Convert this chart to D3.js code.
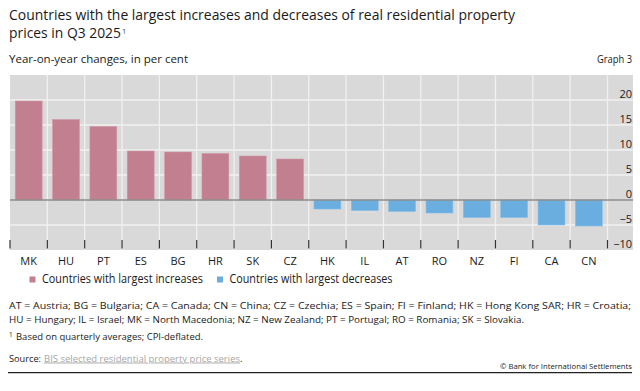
<!DOCTYPE html>
<html><head><meta charset="utf-8">
<script src="https://cdn.jsdelivr.net/npm/d3@7"></script>
<style>
html,body{margin:0;padding:0;background:#fff;}
svg{display:block;}
text{font-family:"Open Sans","Noto Sans",sans-serif;fill:#1a1a1a;}
</style></head>
<body>
<svg id="chart" width="640" height="391"></svg>
<script>
const categories = ["MK","HU","PT","ES","BG","HR","SK","CZ","HK","IL","AT","RO","NZ","FI","CA","CN"];
const increaseCountries = ["MK","HU","PT","ES","BG","HR","SK","CZ"];
const increaseValues = [19.8, 16.1, 14.7, 9.8, 9.6, 9.3, 8.8, 8.2];
const decreaseCountries = ["HK","IL","AT","RO","NZ","FI","CA","CN"];
const decreaseValues = [-1.8, -2.1, -2.3, -2.6, -3.5, -3.5, -5.0, -5.2];
const yTickValues = [-10, -5, 0, 5, 10, 15, 20];
const seriesNames = ["Countries with largest increases", "Countries with largest decreases"];
const seriesColors = ["#c17f8f", "#6aaee0"];

const svg = d3.select("#chart");
const plot = {left: 10, right: 633, top: 75, bottom: 250, barsRight: 607.5};

const x = d3.scaleBand().domain(categories).range([plot.left, plot.barsRight]).paddingInner(0.28).paddingOuter(0.14);
const y = d3.scaleLinear().domain([-10, 25]).range([plot.bottom, plot.top]);
const step = x.step();
const boundary = c => x(c) - step * 0.14;

function txt(xp, yp, s, size, width, anchor, color) {
  const t = svg.append("text").attr("x", xp).attr("y", yp).attr("font-size", size).text(s);
  if (anchor) t.attr("text-anchor", anchor);
  if (color) t.style("fill", color);
  if (width) t.attr("textLength", width).attr("lengthAdjust", "spacingAndGlyphs");
  return t;
}

// Titles
txt(9, 20, "Countries with the largest increases and decreases of real residential property", 15, 506);
const t2 = svg.append("text").attr("font-size", 15);
const t2main = t2.append("tspan").text("prices in Q3 2025");
t2.append("tspan").attr("font-size", 7).attr("dx", 1.5).attr("dy", -4.5).text("1");
const mainLen = t2main.node().getComputedTextLength();
const sx = 112 / mainLen;
t2.attr("transform", `translate(9,38) scale(${sx},1)`);
txt(9, 63, "Year-on-year changes, in per cent", 10.5, 179);
txt(632, 63, "Graph 3", 10.5, 35, "end");

// Background
svg.append("rect").attr("x", plot.left).attr("y", plot.top)
  .attr("width", plot.right - plot.left).attr("height", plot.bottom - plot.top).attr("fill", "#d9d9d9");

// Horizontal gridlines
svg.append("g").selectAll("line").data(yTickValues.filter(v => v !== 0 && v !== -10)).join("line")
  .attr("x1", plot.left).attr("x2", plot.right)
  .attr("y1", d => y(d)).attr("y2", d => y(d))
  .attr("stroke", "#f0f0f0").attr("stroke-width", 1.3);

// Vertical gridlines at band boundaries
const vBounds = categories.slice(1).map(boundary).concat([plot.barsRight]);
svg.append("g").selectAll("line").data(vBounds).join("line")
  .attr("x1", d => d).attr("x2", d => d)
  .attr("y1", plot.top).attr("y2", plot.bottom)
  .attr("stroke", "#f0f0f0").attr("stroke-width", 1.3);

// Bars
const bars = svg.append("g");
bars.selectAll("rect.inc").data(increaseCountries.map((c, i) => ({c, v: increaseValues[i]}))).join("rect")
  .attr("class", "inc")
  .attr("x", d => x(d.c)).attr("width", x.bandwidth())
  .attr("y", d => y(d.v)).attr("height", d => y(0) - y(d.v))
  .attr("fill", seriesColors[0]).attr("stroke", "#cf98a5").attr("stroke-width", 0.6);
bars.selectAll("rect.dec").data(decreaseCountries.map((c, i) => ({c, v: decreaseValues[i]}))).join("rect")
  .attr("class", "dec")
  .attr("x", d => x(d.c)).attr("width", x.bandwidth())
  .attr("y", y(0)).attr("height", d => y(d.v) - y(0))
  .attr("fill", seriesColors[1]).attr("stroke", "#86bde6").attr("stroke-width", 0.6);

// Zero line
svg.append("line").attr("x1", plot.left).attr("x2", plot.right)
  .attr("y1", y(0)).attr("y2", y(0)).attr("stroke", "#8c8c8c").attr("stroke-width", 1.4);

// Bottom tick marks at band boundaries
const tickBounds = categories.map(boundary).concat([plot.barsRight]);
svg.append("g").selectAll("line").data(tickBounds).join("line")
  .attr("x1", d => d).attr("x2", d => d)
  .attr("y1", 240).attr("y2", 248.5)
  .attr("stroke", "#333").attr("stroke-width", 1.2);

// Y axis labels
const yAxis = d3.axisRight(y).tickValues(yTickValues).tickSize(0).tickFormat(d => d < 0 ? "\u2212" + Math.abs(d) : d);
const yg = svg.append("g").attr("transform", `translate(632,0)`).call(yAxis);
yg.select(".domain").remove();
yg.selectAll("text").attr("x", 0).attr("dy", "-3px").attr("text-anchor", "end")
  .attr("font-size", 11).attr("font-family", null).style("fill", "#1a1a1a")
  .attr("dominant-baseline", "auto");

// X axis labels
const xAxis = d3.axisBottom(x).tickSize(0);
const xg = svg.append("g").attr("transform", `translate(0,265)`).call(xAxis);
xg.select(".domain").remove();
xg.selectAll("text").attr("y", 0).attr("dy", 0).attr("font-size", 11).attr("font-family", null).style("fill", "#1a1a1a");

// Legend
const legendX = [29.5, 217];
const legendW = [161, 163];
seriesNames.forEach((n, i) => {
  svg.append("rect").attr("x", legendX[i]).attr("y", 276.5).attr("width", 6).attr("height", 6).attr("fill", seriesColors[i]);
  txt(legendX[i] + 12.5, 283, n, 12, legendW[i]);
});

// Footnotes
txt(9, 308.5, "AT = Austria; BG = Bulgaria; CA = Canada; CN = China; CZ = Czechia; ES = Spain; FI = Finland; HK = Hong Kong SAR; HR = Croatia;", 9.5, 622);
txt(9, 322.5, "HU = Hungary; IL = Israel; MK = North Macedonia; NZ = New Zealand; PT = Portugal; RO = Romania; SK = Slovakia.", 9.5, 515);
txt(9, 336.5, "1", 6.5);
txt(16, 340, "Based on quarterly averages; CPI-deflated.", 9.5, 187);
txt(9, 361.5, "Source:", 9.5, 32);
txt(44, 361.5, "BIS selected residential property price series", 9.5, 196, null, "#a6a6a6")
  .attr("text-decoration", "underline");
txt(240, 361.5, ".", 9.5);
txt(632, 369, "\u00a9 Bank for International Settlements", 7.5, 132, "end");

// Bottom rule
svg.append("line").attr("x1", 8).attr("x2", 632).attr("y1", 372.7).attr("y2", 372.7)
  .attr("stroke", "#222").attr("stroke-width", 1.3);
</script>
</body></html>
